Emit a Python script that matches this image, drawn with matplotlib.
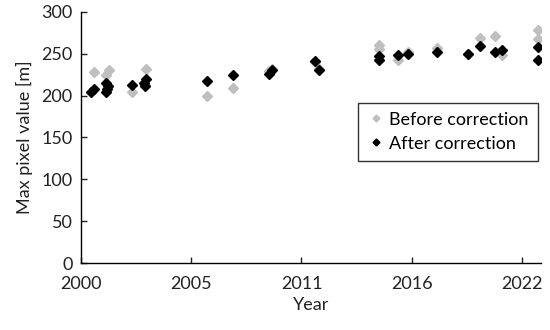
import matplotlib
matplotlib.use("Agg")
import matplotlib.pyplot as plt

plt.rcParams['font.family'] = ['Lato', 'DejaVu Sans']

before_x = [2000.65, 2001.24, 2001.40, 2002.57, 2003.27, 2003.20, 2006.30, 2007.58,
            2009.40, 2009.55, 2011.69, 2011.86, 2014.88, 2014.88, 2015.80, 2016.33,
            2017.78, 2019.32, 2019.90, 2020.65, 2020.98, 2022.80, 2022.80]
before_y = [228, 224, 230, 204, 232, 213, 200, 209,
            229, 232, 240, 232, 260, 256, 242, 252,
            257, 250, 269, 271, 249, 278, 268]

after_x = [2000.53, 2000.65, 2001.24, 2001.37, 2001.24, 2001.30, 2002.57, 2003.27,
           2003.15, 2003.20, 2006.30, 2007.58, 2009.40, 2009.55, 2011.69, 2011.86,
           2014.88, 2014.88, 2015.80, 2016.33, 2017.78, 2019.32, 2019.90, 2020.65,
           2020.98, 2022.80, 2022.80]
after_y = [204, 208, 215, 211, 204, 208, 213, 220,
           215, 211, 217, 225, 226, 230, 241, 231,
           247, 243, 249, 250, 252, 250, 259, 252,
           254, 258, 243]

tick_pos = [2000.0, 2005.5, 2011.0, 2016.5, 2022.0]
tick_labels = ['2000', '2005', '2011', '2016', '2022']
y_ticks = [0, 50, 100, 150, 200, 250, 300]

fig = plt.figure(figsize=(5.5, 3.3), dpi=100)
ax = fig.add_axes([0.147, 0.203, 0.837, 0.761])

ax.plot(before_x, before_y, linestyle='none', marker='D', markersize=5,
        color='#bfbfbf', label='Before correction')
ax.plot(after_x, after_y, linestyle='none', marker='D', markersize=5,
        color='black', label='After correction')

ax.set_xlim(2000.0, 2022.95)
ax.set_ylim(0, 300)
ax.set_xticks(tick_pos)
ax.set_xticklabels(tick_labels)
ax.set_yticks(y_ticks)
ax.tick_params(direction='in', length=4, width=1, labelsize=13, colors='#222222')
ax.tick_params(axis='x', pad=9)
ax.tick_params(axis='y', pad=6)
for s in ['top', 'right']:
    ax.spines[s].set_visible(False)
for s in ['left', 'bottom']:
    ax.spines[s].set_linewidth(1)
ax.set_xlabel('Year', fontsize=13, color='#222222', labelpad=4)
ax.set_ylabel('Max pixel value [m]', fontsize=13, color='#222222', labelpad=6)

leg = ax.legend(loc='upper right', bbox_to_anchor=(1.012, 0.675), fontsize=13,
                frameon=True, fancybox=False, edgecolor='black',
                handletextpad=0.25, handlelength=1.0, borderpad=0.5,
                labelspacing=0.45, markerscale=0.7)
leg.get_frame().set_linewidth(1)

fig.savefig('out.png', dpi=100)
